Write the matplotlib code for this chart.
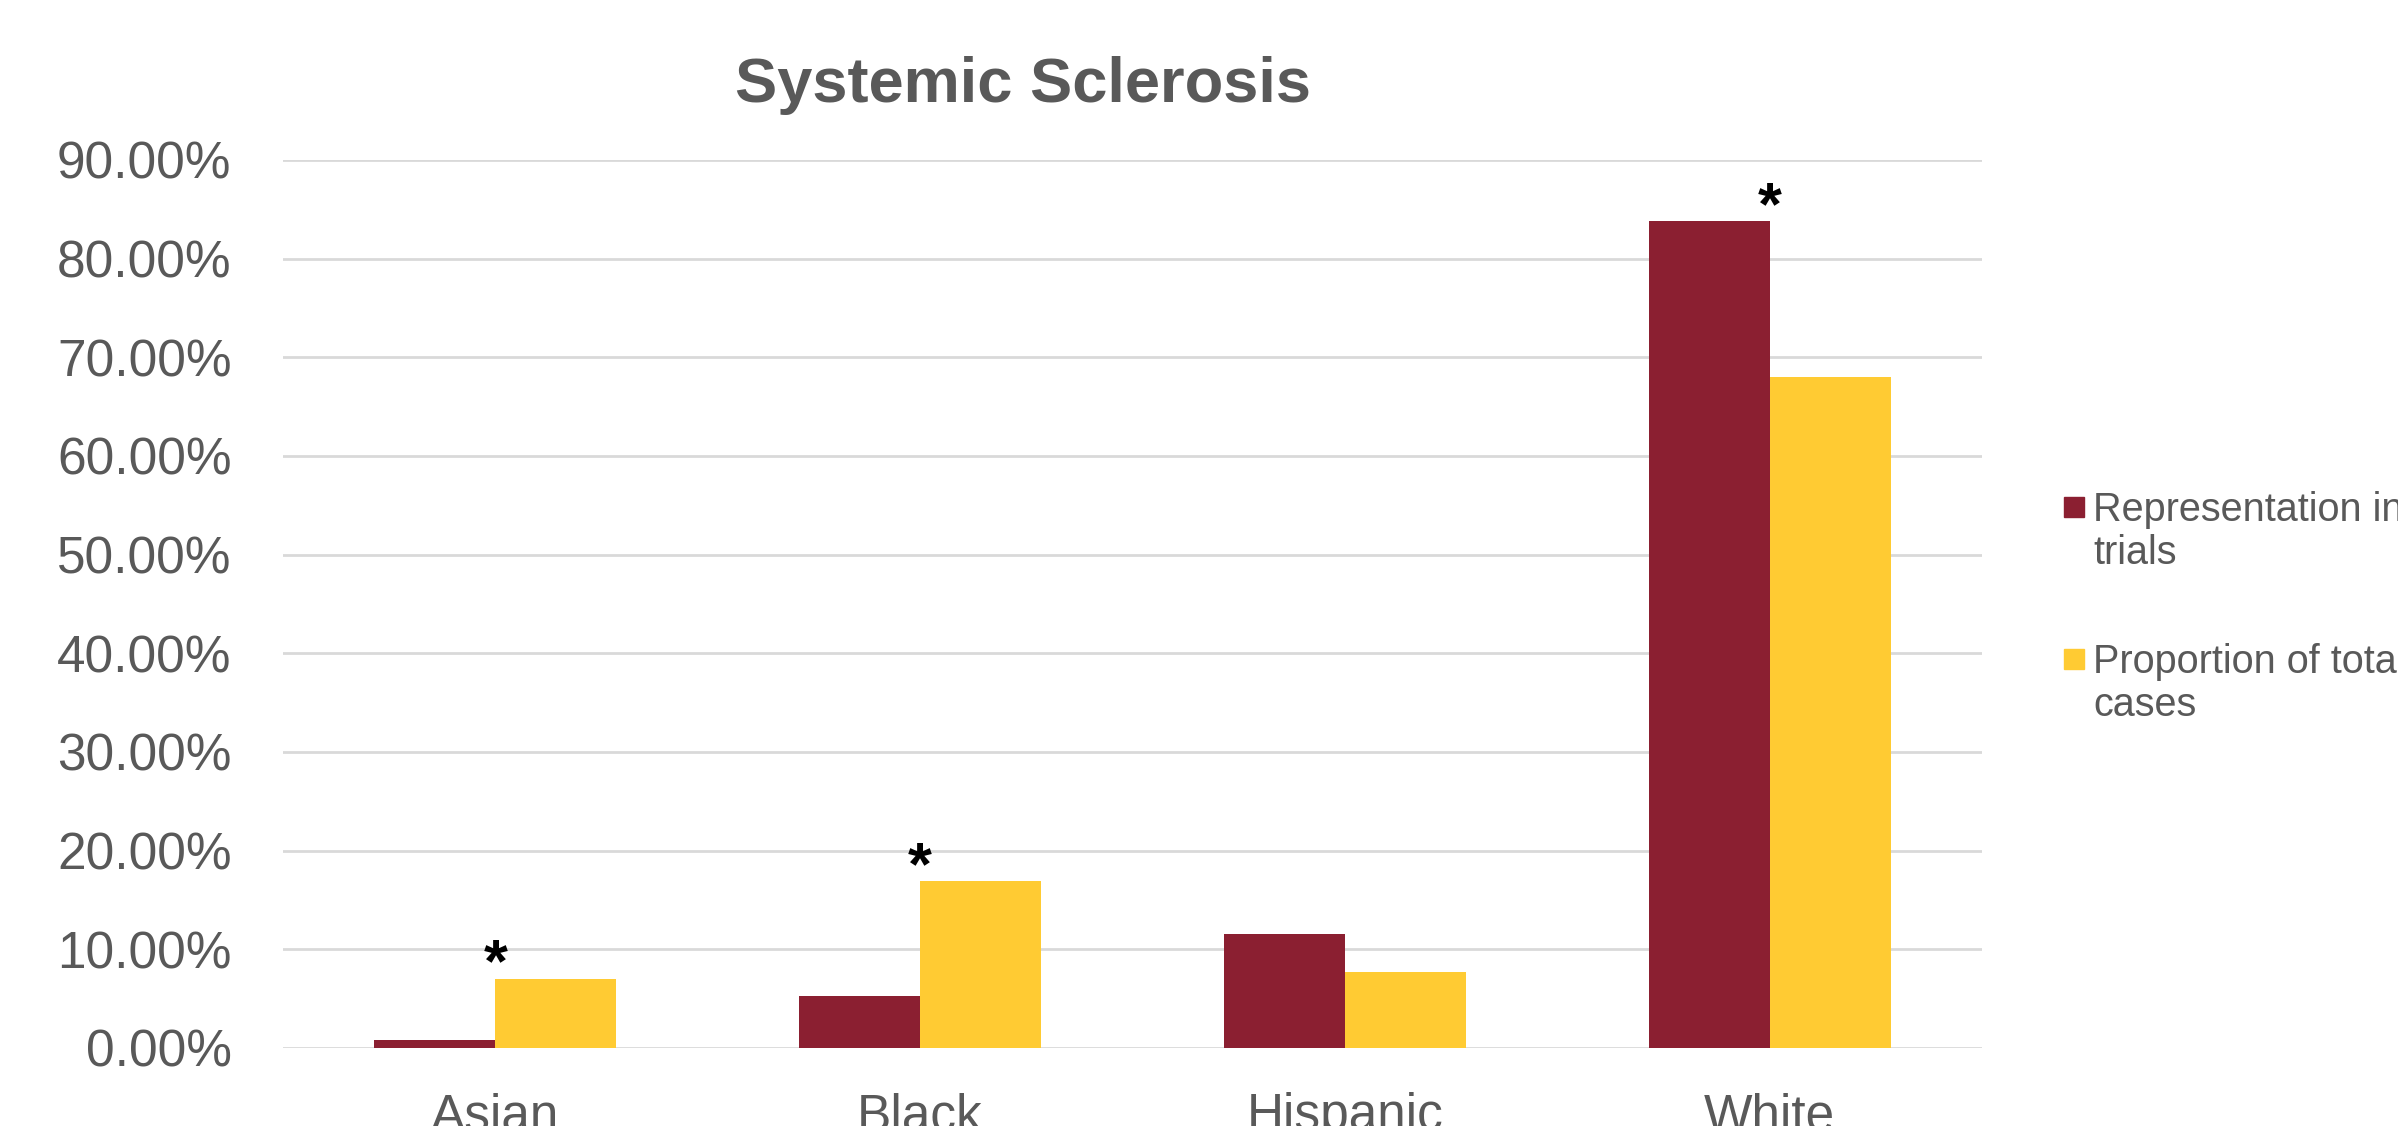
import numpy as np
import matplotlib
matplotlib.use("Agg")
import matplotlib.pyplot as plt
from matplotlib.patches import Rectangle
from matplotlib.ticker import PercentFormatter

plt.rcParams['font.family'] = ['Liberation Sans', 'DejaVu Sans']

# data
categories = ['Asian', 'Black', 'Hispanic', 'White']
trials = [0.008, 0.053, 0.116, 0.838]     # representation in trials
cases = [0.070, 0.169, 0.077, 0.680]      # proportion of total cases
starred = ['Asian', 'Black', 'White']
series_labels = ['Representation in\ntrials', 'Proportion of total\ncases']

red = '#8B1F31'
yellow = '#FFCB33'
grey = '#595959'

fig = plt.figure(figsize=(23.98, 11.26), dpi=100)
ax = fig.add_axes([0.118, 0.0693, 0.7085, 0.7887])

x = np.arange(len(categories))
w = 0.285
ax.bar(x - w / 2, trials, w, color=red, zorder=3)
ax.bar(x + w / 2, cases, w, color=yellow, zorder=3)

# significance stars over the taller bar of each group
for i, c in enumerate(categories):
    if c in starred:
        top = max(trials[i], cases[i])
        ax.annotate('*', (x[i], top), xytext=(0, -2), textcoords='offset points',
                    ha='center', va='baseline', fontsize=44, fontweight='bold',
                    color='black')

ax.set_xlim(-0.5, len(categories) - 0.5)
ax.set_ylim(0, 0.9)
ax.set_yticks(np.arange(0, 0.91, 0.1))
ax.yaxis.set_major_formatter(PercentFormatter(1.0, decimals=2))
ax.set_xticks(x)
ax.set_xticklabels(categories)
ax.tick_params(axis='both', length=0, labelsize=37, labelcolor=grey)
ax.tick_params(axis='y', pad=37)
ax.tick_params(axis='x', pad=32)
ax.grid(axis='y', color='#D9D9D9', linewidth=2, zorder=0)
for s in ax.spines.values():
    s.set_visible(False)

fig.text(1023 / 2398, 1 - 102 / 1126, 'Systemic Sclerosis', ha='center',
         va='baseline', fontsize=45.5, fontweight='bold', color=grey)

# legend drawn by hand so the swatch lines up with the first text line
W, H = 2398, 1126
for lab, col, base in zip(series_labels, [red, yellow], [521, 673]):
    fig.patches.append(Rectangle((2064 / W, 1 - (base - 4) / H), 20 / W, 20 / H,
                                 transform=fig.transFigure, color=col))
    for k, line in enumerate(lab.split('\n')):
        fig.text(2093 / W, 1 - (base + 43 * k) / H, line, ha='left',
                 va='baseline', fontsize=28.5, color=grey)

fig.savefig('out.png', dpi=100)
